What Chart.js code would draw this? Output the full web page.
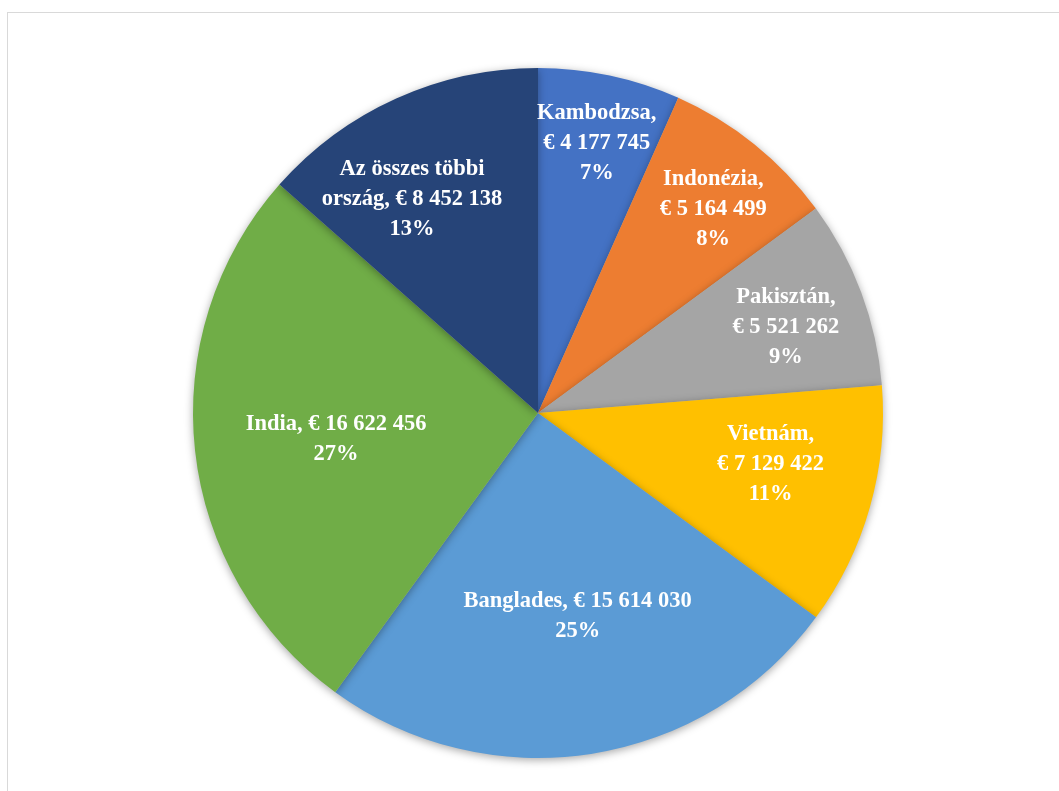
<!DOCTYPE html>
<html>
<head>
<meta charset="utf-8">
<script src="https://cdn.jsdelivr.net/npm/chart.js@4.4.1/dist/chart.umd.min.js"></script>
<style>
  html, body { margin: 0; padding: 0; background: #fff; }
  #wrap { position: relative; width: 1059px; height: 791px; overflow: hidden; }
  #frame { position: absolute; left: 7px; top: 12px; width: 1100px; height: 900px; border: 1px solid #d9d9d9; box-sizing: border-box; }
  canvas { position: absolute; left: 0; top: 0; }
</style>
</head>
<body>
<div id="wrap">
  <div id="frame"></div>
  <canvas id="chart" width="1059" height="791"></canvas>
</div>
<script>
// data
const countries = ['Kambodzsa', 'Indonézia', 'Pakisztán', 'Vietnám', 'Banglades', 'India', 'Az összes többi ország'];
const values = [4177745, 5164499, 5521262, 7129422, 15614030, 16622456, 8452138];
const colors = ['#4472C4', '#ED7D31', '#A5A5A5', '#FFC000', '#5B9BD5', '#70AD47', '#264478'];
// how each label is broken into lines (as in the reference)
const labelLines = [
  ['Kambodzsa,', '€ 4 177 745'],
  ['Indonézia,', '€ 5 164 499'],
  ['Pakisztán,', '€ 5 521 262'],
  ['Vietnám,', '€ 7 129 422'],
  ['Banglades, € 15 614 030'],
  ['India, € 16 622 456'],
  ['Az összes többi', 'ország, € 8 452 138']
];
// label placement: fraction of radius, and small angle nudge (degrees) from slice middle
const labelRadius = [0.80, 0.78, 0.76, 0.69, 0.60, 0.59, 0.72];
const labelShift = [0.3, 1.8, 1.5, -3.5, -2.2, -1.0, -6.2];

const total = values.reduce((a, b) => a + b, 0);
const fmtPct = v => Math.round(v / total * 100) + '%';

// soft shadow under the pie
const shadowPlugin = {
  id: 'shadow',
  beforeDatasetDraw(chart) {
    const ctx = chart.ctx;
    ctx.save();
    ctx.shadowColor = 'rgba(0,0,0,0.35)';
    ctx.shadowBlur = 8;
    ctx.shadowOffsetY = 2;
  },
  afterDatasetDraw(chart) { chart.ctx.restore(); }
};

// labels drawn inside each slice
const labelPlugin = {
  id: 'sliceLabels',
  afterDatasetsDraw(chart) {
    const ctx = chart.ctx;
    const meta = chart.getDatasetMeta(0);
    ctx.save();
    ctx.fillStyle = '#fff';
    ctx.font = 'bold 22.5px "Liberation Serif", "DejaVu Serif", serif';
    ctx.textAlign = 'center';
    ctx.textBaseline = 'middle';
    const lh = 30;
    meta.data.forEach((arc, i) => {
      const p = arc.getProps(['x', 'y', 'startAngle', 'endAngle', 'outerRadius'], true);
      const mid = (p.startAngle + p.endAngle) / 2 + labelShift[i] * Math.PI / 180;
      const r = p.outerRadius * labelRadius[i];
      const cx = p.x + Math.cos(mid) * r;
      const cy = p.y + Math.sin(mid) * r;
      const lines = labelLines[i].concat([fmtPct(values[i])]);
      const y0 = cy - (lines.length - 1) * lh / 2;
      lines.forEach((t, k) => ctx.fillText(t, cx, y0 + k * lh));
    });
    ctx.restore();
  }
};

new Chart(document.getElementById('chart'), {
  type: 'pie',
  data: {
    labels: countries,
    datasets: [{
      data: values,
      backgroundColor: colors,
      borderWidth: 0
    }]
  },
  options: {
    responsive: false,
    animation: false,
    layout: { padding: { left: 17, right: 0, top: 68, bottom: 33 } },
    plugins: {
      legend: { display: false },
      tooltip: { enabled: false }
    }
  },
  plugins: [shadowPlugin, labelPlugin]
});
</script>
</body>
</html>
